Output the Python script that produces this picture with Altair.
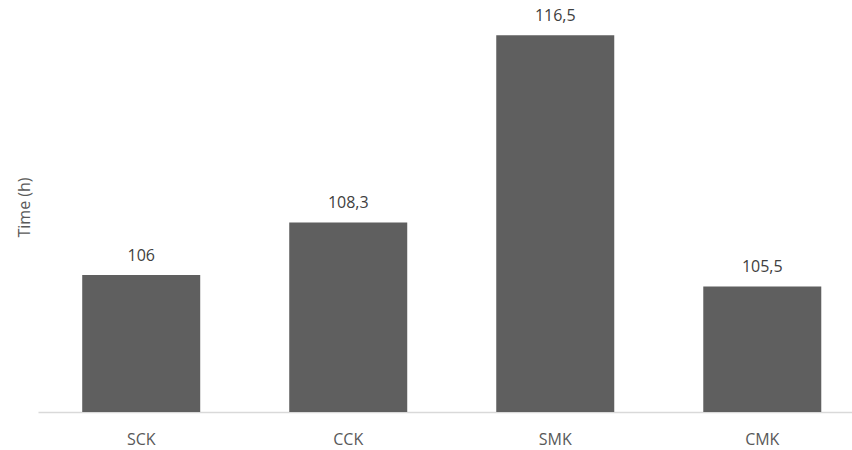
import altair as alt
import pandas as pd

# Processing time per configuration
categories = ["SCK", "CCK", "SMK", "CMK"]
hours = [106, 108.3, 116.5, 105.5]
labels = ["106", "108,3", "116,5", "105,5"]

df = pd.DataFrame({"cfg": categories, "hours": hours, "label": labels})

FONT = "Open Sans"

x = alt.X(
    "cfg:N",
    sort=categories,
    title=None,
    scale=alt.Scale(paddingInner=0.43, paddingOuter=0.181, align=0.59),
    axis=alt.Axis(
        labelAngle=0,
        ticks=False,
        tickSize=0,
        labelPadding=19,
        labelFont=FONT,
        labelFontSize=16,
        labelColor="#595959",
        domainColor="#d9d9d9",
        domainWidth=1.5,
        grid=False,
    ),
)

y_scale = alt.Scale(domain=[100, 118], zero=False, nice=False)

bars = alt.Chart(df).mark_bar(color="#5f5f5f").encode(
    x=x,
    y=alt.Y(
        "hours:Q",
        scale=y_scale,
        axis=alt.Axis(
            title="Time (h)",
            labels=False,
            ticks=False,
            domain=False,
            grid=False,
            titleFont=FONT,
            titleFontSize=16,
            titleFontWeight="normal",
            titleColor="#595959",
            titleAngle=270,
            titleX=-14,
            titleY=206,
            titleAlign="center",
            titleBaseline="middle",
        ),
    ),
    y2=alt.Y2Datum(100),
)

text = alt.Chart(df).mark_text(
    font=FONT,
    fontSize=16,
    color="#404040",
    baseline="alphabetic",
    dy=-14,
).encode(
    x=alt.X("cfg:N", sort=categories),
    y=alt.Y("hours:Q", scale=y_scale),
    text="label:N",
)

chart = (
    alt.layer(bars, text)
    .properties(
        width=814,
        height=411,
        autosize=alt.AutoSizeParams(type="none"),
        padding={"left": 38, "top": 1, "right": 0, "bottom": 38},
        background="white",
    )
    .configure_view(stroke=None)
)

chart.save("out.html", embed_options={"renderer": "svg", "actions": False})
